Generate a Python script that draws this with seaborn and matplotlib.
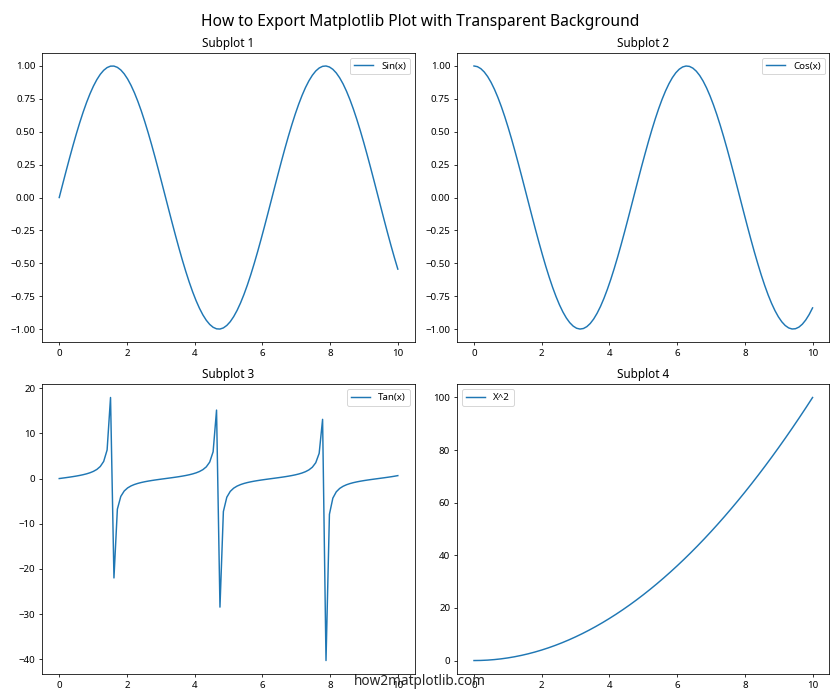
import numpy as np
import pandas as pd
import matplotlib
matplotlib.use('Agg')
import matplotlib.pyplot as plt
import seaborn as sns

plt.rcParams['font.family'] = ['Noto Sans', 'DejaVu Sans']

# 100-point sample grid used by sin, cos and tan
x_grid = [0.0, 0.101, 0.202, 0.303, 0.404, 0.505, 0.606, 0.707, 0.808, 0.909,
          1.010, 1.111, 1.212, 1.313, 1.414, 1.515, 1.616, 1.717, 1.818, 1.919,
          2.020, 2.121, 2.222, 2.323, 2.424, 2.525, 2.626, 2.727, 2.828, 2.929,
          3.030, 3.131, 3.232, 3.333, 3.434, 3.535, 3.636, 3.737, 3.838, 3.939,
          4.040, 4.141, 4.242, 4.343, 4.444, 4.545, 4.646, 4.747, 4.848, 4.949,
          5.051, 5.152, 5.253, 5.354, 5.455, 5.556, 5.657, 5.758, 5.859, 5.960,
          6.061, 6.162, 6.263, 6.364, 6.465, 6.566, 6.667, 6.768, 6.869, 6.970,
          7.071, 7.172, 7.273, 7.374, 7.475, 7.576, 7.677, 7.778, 7.879, 7.980,
          8.081, 8.182, 8.283, 8.384, 8.485, 8.586, 8.687, 8.788, 8.889, 8.990,
          9.091, 9.192, 9.293, 9.394, 9.495, 9.596, 9.697, 9.798, 9.899, 10.0]

sin_vals = [0.0, 0.1008, 0.2006, 0.2984, 0.3931, 0.4838, 0.5696, 0.6496, 0.7229, 0.7888,
            0.8468, 0.8961, 0.9364, 0.9670, 0.9877, 0.9985, 0.9990, 0.9893, 0.9696, 0.9399,
            0.9007, 0.8522, 0.7953, 0.7300, 0.6576, 0.5780, 0.4928, 0.4026, 0.3082, 0.2107,
            0.1111, 0.0103, -0.0906, -0.1905, -0.2885, -0.3837, -0.4750, -0.5611, -0.6418, -0.7159,
            -0.7825, -0.8414, -0.8916, -0.9327, -0.9643, -0.9861, -0.9978, -0.9994, -0.9908, -0.9720,
            -0.9434, -0.9051, -0.8577, -0.8014, -0.7370, -0.6651, -0.5864, -0.5017, -0.4120, -0.3180,
            -0.2208, -0.1213, -0.0206, 0.0803, 0.1804, 0.2788, 0.3742, 0.4658, 0.5526, 0.6339,
            0.7086, 0.7761, 0.8358, 0.8869, 0.9289, 0.9616, 0.9843, 0.9971, 0.9997, 0.9921,
            0.9744, 0.9468, 0.9095, 0.8632, 0.8076, 0.7439, 0.6726, 0.5946, 0.5107, 0.4214,
            0.3277, 0.2308, 0.1315, 0.0309, -0.0700, -0.1704, -0.2689, -0.3646, -0.4566, -0.5440]

cos_vals = [1.0, 0.9949, 0.9797, 0.9544, 0.9195, 0.8752, 0.8219, 0.7603, 0.6910, 0.6147,
            0.5319, 0.4439, 0.3510, 0.2548, 0.1561, 0.0556, -0.0454, -0.1459, -0.2449, -0.3414,
            -0.4344, -0.5233, -0.6062, -0.6834, -0.7534, -0.8160, -0.8701, -0.9154, -0.9513, -0.9775,
            -0.9938, -0.9999, -0.9959, -0.9817, -0.9575, -0.9235, -0.8800, -0.8278, -0.7669, -0.6982,
            -0.6226, -0.5404, -0.4529, -0.3607, -0.2648, -0.1661, -0.0659, 0.0351, 0.1357, 0.2349,
            0.3317, 0.4252, 0.5142, 0.5981, 0.6759, 0.7467, 0.8100, 0.8650, 0.9112, 0.9481,
            0.9753, 0.9926, 0.9998, 0.9968, 0.9836, 0.9604, 0.9274, 0.8849, 0.8335, 0.7734,
            0.7056, 0.6306, 0.5490, 0.4620, 0.3703, 0.2746, 0.1763, 0.0761, -0.0248, -0.1255,
            -0.2249, -0.3220, -0.4158, -0.5049, -0.5898, -0.6683, -0.7400, -0.8040, -0.8598, -0.9069,
            -0.9448, -0.9730, -0.9913, -0.9995, -0.9975, -0.9854, -0.9632, -0.9312, -0.8897, -0.8391]

tan_vals = [0.0, 0.1014, 0.2048, 0.3126, 0.4273, 0.5528, 0.6930, 0.8544, 1.0462, 1.2833,
            1.592, 2.019, 2.669, 3.794, 6.33, 17.95, -22.01, -6.78, -3.959, -2.754,
            -2.073, -1.628, -1.312, -1.068, -0.8729, -0.7083, -0.5664, -0.4395, -0.324, -0.2156,
            -0.1118, -0.0103, 0.0910, 0.1941, 0.3013, 0.4150, 0.5398, 0.6778, 0.8369, 1.0253,
            1.2568, 1.557, 1.969, 2.586, 3.642, 5.935, 15.16, -28.47, -7.30, -4.137,
            -2.844, -2.129, -1.668, -1.340, -1.090, -0.8907, -0.7240, -0.5800, -0.4523, -0.3354,
            -0.2264, -0.1222, -0.0206, 0.0806, 0.1834, 0.2903, 0.4028, 0.5264, 0.6630, 0.8196,
            1.0042, 1.2307, 1.522, 1.918, 2.508, 3.501, 5.583, 13.11, -40.3, -7.905,
            -4.333, -2.941, -2.187, -1.710, -1.369, -1.113, -0.9089, -0.7395, -0.5940, -0.4646,
            -0.3468, -0.2372, -0.1327, -0.0309, 0.0702, 0.1729, 0.2791, 0.3915, 0.5132, 0.6484]

# x^2 is smooth, a 0.2 step is enough
x_sq = [0.0, 0.2, 0.4, 0.6, 0.8, 1.0, 1.2, 1.4, 1.6, 1.8,
        2.0, 2.2, 2.4, 2.6, 2.8, 3.0, 3.2, 3.4, 3.6, 3.8,
        4.0, 4.2, 4.4, 4.6, 4.8, 5.0, 5.2, 5.4, 5.6, 5.8,
        6.0, 6.2, 6.4, 6.6, 6.8, 7.0, 7.2, 7.4, 7.6, 7.8,
        8.0, 8.2, 8.4, 8.6, 8.8, 9.0, 9.2, 9.4, 9.6, 9.8, 10.0]

sq_vals = [0, 0.04, 0.16, 0.36, 0.64, 1, 1.44, 1.96, 2.56, 3.24,
           4, 4.84, 5.76, 6.76, 7.84, 9, 10.24, 11.56, 12.96, 14.44,
           16, 17.64, 19.36, 21.16, 23.04, 25, 27.04, 29.16, 31.36, 33.64,
           36, 38.44, 40.96, 43.56, 46.24, 49, 51.84, 54.76, 57.76, 60.84,
           64, 67.24, 70.56, 73.96, 77.44, 81, 84.64, 88.36, 92.16, 96.04, 100]

fig, axes = plt.subplots(2, 2, figsize=(12, 10), dpi=70)

sns.lineplot(x=x_grid, y=sin_vals, ax=axes[0, 0], label='Sin(x)')
axes[0, 0].set_title('Subplot 1', fontsize=12)

sns.lineplot(x=x_grid, y=cos_vals, ax=axes[0, 1], label='Cos(x)')
axes[0, 1].set_title('Subplot 2', fontsize=12)

sns.lineplot(x=x_grid, y=tan_vals, ax=axes[1, 0], label='Tan(x)')
axes[1, 0].set_title('Subplot 3', fontsize=12)

sns.lineplot(x=x_sq, y=sq_vals, ax=axes[1, 1], label='X^2')
axes[1, 1].set_title('Subplot 4', fontsize=12)

for ax in axes.flat:
    ax.legend()

fig.suptitle('How to Export Matplotlib Plot with Transparent Background', fontsize=16)
plt.tight_layout()
fig.text(0.5, 0.027, 'how2matplotlib.com', ha='center', va='center', fontsize=14, alpha=0.85)
plt.savefig('out.png')
